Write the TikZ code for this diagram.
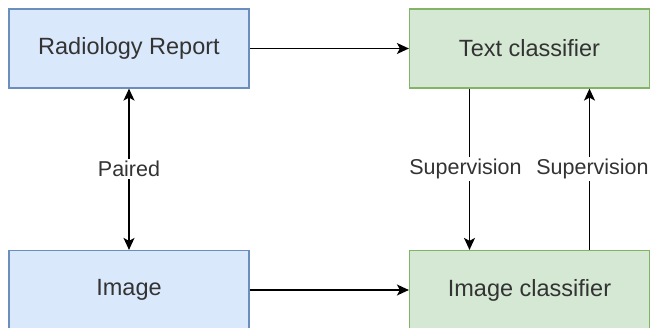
\documentclass[tikz,border=0pt]{standalone}
\usepackage{fontspec}
\setmainfont{Liberation Sans}
\usetikzlibrary{arrows.meta}
\definecolor{bluefill}{HTML}{DAE8FC}
\definecolor{bluedraw}{HTML}{6C8EBF}
\definecolor{greenfill}{HTML}{D5E8D4}
\definecolor{greendraw}{HTML}{82B366}
\definecolor{txt}{HTML}{333333}
\tikzset{
  inputbox/.style={draw=bluedraw, fill=bluefill, line width=1.2pt, minimum width=240pt, minimum height=79pt, text=txt, font=\fontsize{23.5}{28}\selectfont},
  classbox/.style={inputbox, draw=greendraw, fill=greenfill},
  link/.style={line width=1.5pt, -{Stealth[length=12pt,width=11pt,inset=3pt]}},
  linklabel/.style={fill=white, text=txt, inner sep=2pt, font=\fontsize{21.5}{26}\selectfont}
}
\begin{document}
\begin{tikzpicture}[x=1pt,y=-1pt]
  \useasboundingbox (0,0) rectangle (654,328);
  % boxes
  \node[inputbox] (report) at (129,48.5) {Radiology Report};
  \node[classbox] (textcls) at (529.5,48.5) {Text classifier};
  \node[inputbox] (image) at (129,290) {Image};
  \node[classbox] (imagecls) at (529.5,290) {Image classifier};
  % connectors
  \draw[link] (report) -- (textcls);
  \draw[link] (image) -- (imagecls);
  \draw[link, {Stealth[length=12pt,width=11pt,inset=3pt]}-{Stealth[length=12pt,width=11pt,inset=3pt]}] (report) -- (image)
    node[linklabel, midway] {Paired};
  \draw[link] ([xshift=-60pt]textcls.south) -- ([xshift=-60pt]imagecls.north)
    node[linklabel, midway, xshift=-4pt] {Supervision};
  \draw[link] ([xshift=60pt]imagecls.north) -- ([xshift=60pt]textcls.south)
    node[linklabel, midway, xshift=3pt] {Supervision};
\end{tikzpicture}
\end{document}
